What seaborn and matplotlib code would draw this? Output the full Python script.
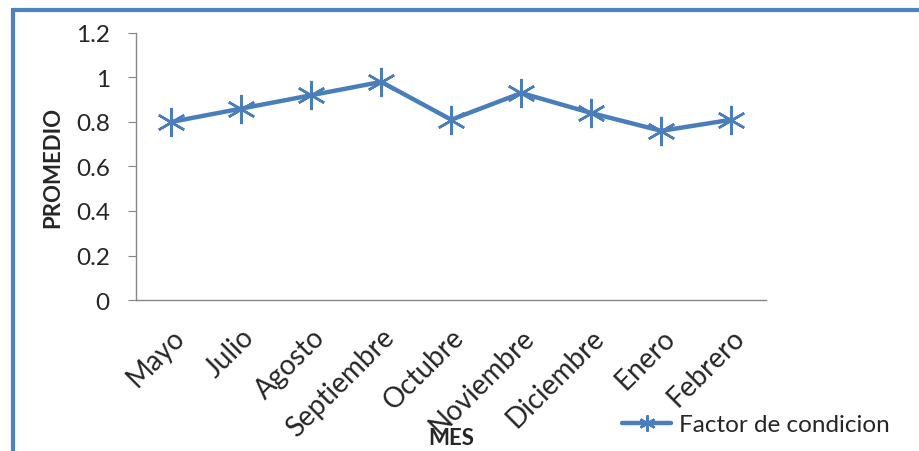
import numpy as np
import pandas as pd
import seaborn as sns
import matplotlib.pyplot as plt
from matplotlib.patches import Rectangle

meses = ["Mayo", "Julio", "Agosto", "Septiembre", "Octubre",
         "Noviembre", "Diciembre", "Enero", "Febrero"]
promedio = [0.80, 0.86, 0.92, 0.98, 0.81, 0.93, 0.84, 0.76, 0.81]
yticks = [0, 0.2, 0.4, 0.6, 0.8, 1, 1.2]
ytick_labels = ["0", "0.2", "0.4", "0.6", "0.8", "1", "1.2"]

sns.set_style("white")
plt.rcParams['font.family'] = ['Lato', 'DejaVu Sans']

df = pd.DataFrame({"MES": meses, "PROMEDIO": promedio})

fig = plt.figure(figsize=(9.2, 4.52), dpi=100)
ax = fig.add_axes([0.148, 0.334, 0.685, 0.591])

sns.lineplot(data=df, x="MES", y="PROMEDIO", sort=False, ax=ax,
             color="#4A7EBB", linewidth=3.2, marker=(6, 2, 0), markersize=21,
             markeredgewidth=1.8, markeredgecolor="#4A7EBB",
             label="Factor de condicion")

ax.set_xlim(-0.5, len(meses) - 0.5)
ax.set_ylim(0, 1.2)
ax.set_yticks(yticks)
ax.set_yticklabels(ytick_labels, fontsize=17.5)
ax.set_xticks(range(len(meses)))
ax.set_xticklabels(meses, fontsize=20, rotation=45, ha="right",
                   rotation_mode="anchor")
ax.set_xticks(np.arange(-0.5, len(meses)), minor=True)
ax.tick_params(axis="x", which="major", length=0, pad=17)
ax.tick_params(axis="x", which="minor", length=6, color="#868686", direction="out")
ax.tick_params(axis="y", length=6, color="#868686", direction="out", left=True, pad=13)

for s in ["top", "right"]:
    ax.spines[s].set_visible(False)
for s in ["left", "bottom"]:
    ax.spines[s].set_color("#868686")
    ax.spines[s].set_linewidth(1)

ax.set_xlabel("MES", fontsize=16, fontweight="bold")
ax.xaxis.set_label_coords(0.5, -0.475)
ax.set_ylabel("PROMEDIO", fontsize=16, fontweight="bold")
ax.yaxis.set_label_coords(-0.115, 0.5)

ax.legend(loc="center", bbox_to_anchor=(0.822, 0.058),
          bbox_transform=fig.transFigure, frameon=False, fontsize=17.5,
          handlelength=2.0, handletextpad=0.35, markerscale=0.55)

fig.patches.append(Rectangle((0.014, -0.1), 1.2, 1.075, transform=fig.transFigure,
                             fill=False, edgecolor="#4F81BD", linewidth=3))

fig.savefig("out.png", dpi=100)
